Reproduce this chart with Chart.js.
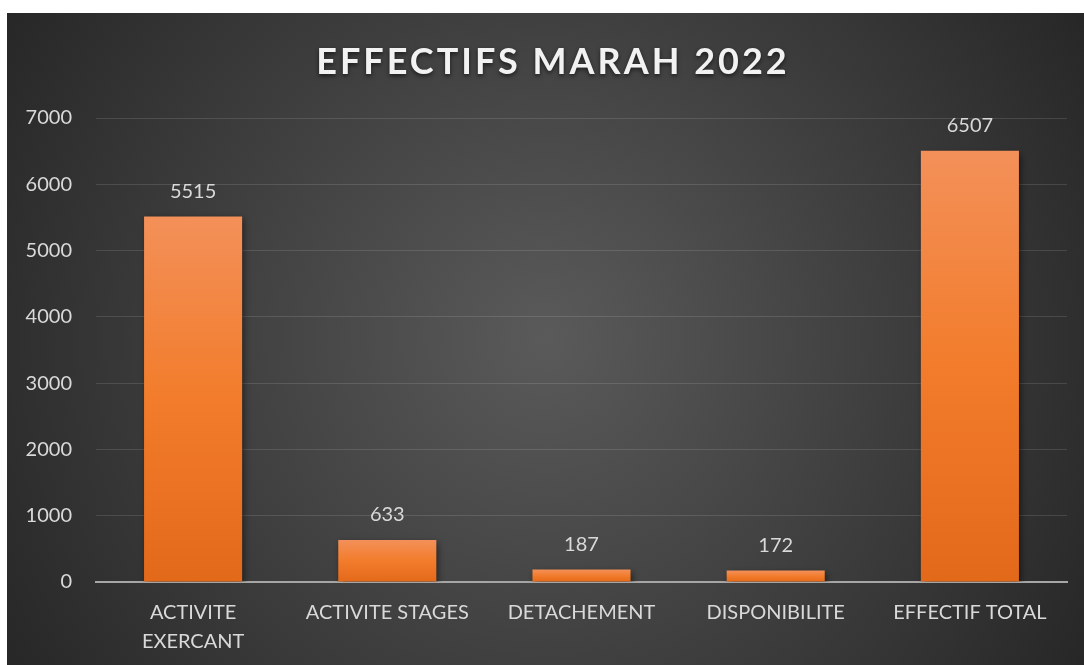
<!DOCTYPE html>
<html>
<head>
<meta charset="utf-8">
<script src="https://cdn.jsdelivr.net/npm/chart.js@4"></script>
<style>
  html, body { margin: 0; padding: 0; background: #fff; }
  #wrap { position: absolute; left: 7px; top: 13px; width: 1077px; height: 652px; }
</style>
</head>
<body>
<div id="wrap"><canvas id="effectifsChart"></canvas></div>
<script>
const categories = [["ACTIVITE", "EXERCANT"], "ACTIVITE STAGES", "DETACHEMENT", "DISPONIBILITE", "EFFECTIF TOTAL"];
const effectifs = [5515, 633, 187, 172, 6507];
const yTicks = [0, 1000, 2000, 3000, 4000, 5000, 6000, 7000];
const chartTitle = "EFFECTIFS MARAH 2022";

const FONT = "Lato, 'Open Sans', sans-serif";

// radial dark background
const bgPlugin = {
  id: "bg",
  beforeDraw(chart) {
    const { ctx, width, height } = chart;
    const g = ctx.createRadialGradient(width * 0.5, height * 0.5, 0, width * 0.5, height * 0.5, 640);
    g.addColorStop(0, "#5a5a5a");
    g.addColorStop(1, "#262626");
    ctx.save();
    ctx.fillStyle = g;
    ctx.fillRect(0, 0, width, height);
    ctx.restore();
  },
};

// spaced title + value labels above the bars
const textPlugin = {
  id: "texts",
  beforeDatasetsDraw(chart) {
    const ctx = chart.ctx;
    ctx.save();
    ctx.shadowColor = "rgba(0,0,0,0.55)";
    ctx.shadowBlur = 7;
    ctx.shadowOffsetX = 2;
    ctx.shadowOffsetY = 3;
  },
  afterDatasetsDraw(chart) {
    const ctx = chart.ctx;
    ctx.restore();
    const meta = chart.getDatasetMeta(0);
    ctx.save();
    ctx.font = "20px " + FONT;
    ctx.fillStyle = "#d9d9d9";
    ctx.textAlign = "center";
    ctx.textBaseline = "middle";
    meta.data.forEach((bar, i) => {
      ctx.fillText(String(effectifs[i]), bar.x, bar.y - 25);
    });
    ctx.restore();
  },
  afterDraw(chart) {
    const ctx = chart.ctx;
    ctx.save();
    ctx.font = "bold 36px " + FONT;
    ctx.letterSpacing = "3px";
    ctx.fillStyle = "#f2f2f2";
    ctx.textAlign = "center";
    ctx.textBaseline = "middle";
    ctx.shadowColor = "rgba(0,0,0,0.6)";
    ctx.shadowBlur = 4;
    ctx.shadowOffsetY = 2;
    ctx.fillText(chartTitle, 546, 49);
    ctx.restore();
  },
};

function barFill(context) {
  const chart = context.chart;
  const y = chart.scales && chart.scales.y;
  if (!chart.chartArea || !y) return "#f07c2c";
  const top = y.getPixelForValue(effectifs[context.dataIndex]);
  const bottom = y.getPixelForValue(0);
  const g = chart.ctx.createLinearGradient(0, top, 0, bottom);
  g.addColorStop(0, "#f39059");
  g.addColorStop(0.5, "#f27c2b");
  g.addColorStop(1, "#e3691a");
  return g;
}

new Chart(document.getElementById("effectifsChart"), {
  type: "bar",
  data: {
    labels: categories,
    datasets: [
      {
        data: effectifs,
        backgroundColor: barFill,
        borderWidth: 0,
        categoryPercentage: 1,
        barPercentage: 0.505,
      },
    ],
  },
  options: {
    responsive: true,
    maintainAspectRatio: false,
    animation: false,
    layout: { padding: { top: 105, right: 17, left: 0, bottom: 0 } },
    plugins: {
      legend: { display: false },
      tooltip: { enabled: false },
    },
    scales: {
      x: {
        grid: { display: false, drawTicks: false },
        border: { color: "#a6a6a6", width: 2 },
        ticks: {
          color: "#d9d9d9",
          font: { family: FONT, size: 20, lineHeight: 1.45 },
          padding: 16,
          maxRotation: 0,
        },
        afterFit(scale) { scale.height = 83; },
      },
      y: {
        min: 0,
        max: 7000,
        afterBuildTicks(scale) {
          scale.ticks = yTicks.map(v => ({ value: v }));
        },
        grid: { color: "rgba(255,255,255,0.12)", lineWidth: 1, drawTicks: false },
        border: { display: false },
        ticks: {
          color: "#d9d9d9",
          font: { family: FONT, size: 20 },
          padding: 24,
          callback: (value) => String(value),
        },
        afterFit(scale) { scale.width = 89; },
      },
    },
  },
  plugins: [bgPlugin, textPlugin],
});
</script>
</body>
</html>
